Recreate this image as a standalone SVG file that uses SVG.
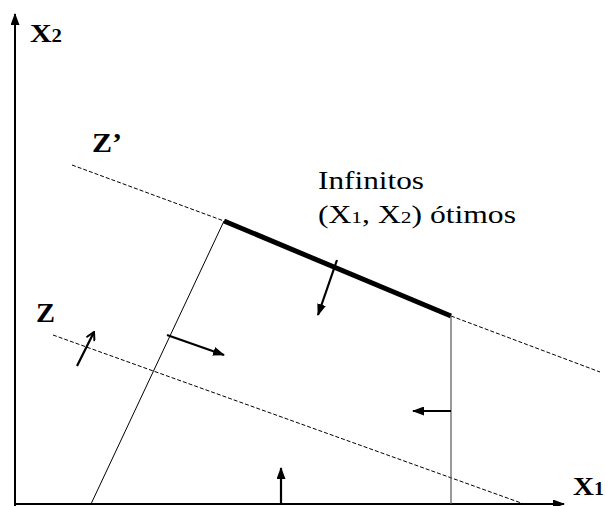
<svg xmlns="http://www.w3.org/2000/svg" width="605" height="506" viewBox="0 0 605 506">
<style>
.lbl{font-family:"Times New Roman","Liberation Serif",Times,serif;fill:#000}
.b{font-weight:bold}
.ax{stroke:#000;stroke-width:2;fill:none}
.dash{stroke:#000;stroke-width:1;stroke-dasharray:4,2;fill:none}
.thin{stroke:#000;stroke-width:1;fill:none}
.arr{stroke:#000;stroke-width:2.2;fill:none}
</style>
<defs>
<marker id="ah" markerWidth="12" markerHeight="9" refX="11" refY="4.5" orient="auto" markerUnits="userSpaceOnUse">
<path d="M0,0 L12,4.5 L0,9 Z" fill="#000"/>
</marker>
<marker id="ao" markerWidth="10" markerHeight="10" refX="9" refY="5" orient="auto" markerUnits="userSpaceOnUse">
<path d="M1,0.5 L9,5 L1,9.5" fill="none" stroke="#000" stroke-width="2"/>
</marker>
</defs>
<g id="connectors">
<line class="ax" x1="15" y1="506" x2="15" y2="14" marker-end="url(#ah)"/>
<line class="ax" x1="14" y1="504" x2="564" y2="504" marker-end="url(#ah)"/>
<line class="dash" x1="72" y1="165" x2="224" y2="221"/>
<line class="dash" x1="451" y1="316" x2="600" y2="372"/>
<line class="dash" x1="53" y1="335" x2="524" y2="504"/>
<line x1="224" y1="221" x2="451" y2="316" stroke="#000" stroke-width="5"/>
<line class="thin" x1="224" y1="221" x2="91" y2="504"/>
<line x1="451" y1="316" x2="451" y2="504" stroke="#555" stroke-width="1.2"/>
<line class="arr" x1="337" y1="260" x2="318" y2="315" marker-end="url(#ah)"/>
<line class="arr" x1="167" y1="335" x2="224" y2="355" marker-end="url(#ah)"/>
<line class="arr" x1="451" y1="411" x2="413" y2="411" marker-end="url(#ah)"/>
<line class="arr" x1="281" y1="504" x2="281" y2="468" marker-end="url(#ah)"/>
<line class="arr" x1="77" y1="366" x2="94" y2="332" marker-end="url(#ao)"/>
</g>
<g id="label-x2"><text class="lbl b" x="30" y="42" font-size="26" textLength="32" lengthAdjust="spacingAndGlyphs">X<tspan font-size="18">2</tspan></text></g>
<g id="label-x1"><text class="lbl b" x="573" y="495" font-size="26" textLength="31" lengthAdjust="spacingAndGlyphs">X<tspan font-size="18">1</tspan></text></g>
<g id="label-zprime"><text class="lbl b" x="92" y="152" font-size="27" textLength="30" lengthAdjust="spacingAndGlyphs">Z’</text></g>
<g id="label-z"><text class="lbl b" x="36" y="322" font-size="28" textLength="19" lengthAdjust="spacingAndGlyphs">Z</text></g>
<g id="label-infinitos">
<text class="lbl" x="318" y="189" font-size="25" textLength="106" lengthAdjust="spacingAndGlyphs">Infinitos</text>
<text class="lbl" x="318" y="223" font-size="25" textLength="198" lengthAdjust="spacingAndGlyphs">(X<tspan font-size="17">1</tspan>, X<tspan font-size="17">2</tspan>) ótimos</text>
</g>
</svg>
